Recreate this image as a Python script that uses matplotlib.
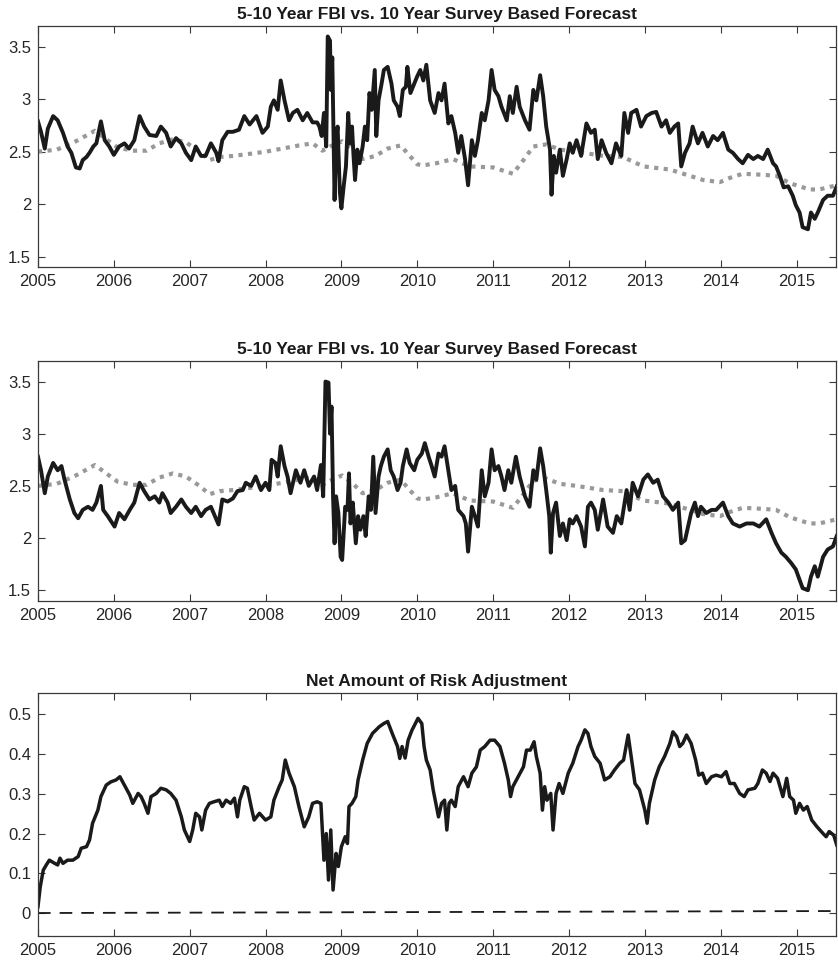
import matplotlib
matplotlib.use("Agg")
import matplotlib.pyplot as plt

# survey based 10 year forecast (same series in panels 1 and 2)
t_survey = [2005.00, 2005.25, 2005.50, 2005.75, 2005.90, 2006.05, 2006.25, 2006.43, 2006.60, 2006.78,
            2006.95, 2007.13, 2007.26, 2007.40, 2007.57, 2007.79, 2008.00, 2008.22, 2008.44, 2008.62,
            2008.75, 2008.88, 2009.01, 2009.14, 2009.28, 2009.45, 2009.61, 2009.78, 2009.89, 2010.00,
            2010.08, 2010.25, 2010.47, 2010.69, 2011.00, 2011.26, 2011.38, 2011.53, 2011.70, 2011.88,
            2012.10, 2012.45, 2012.71, 2012.98, 2013.33, 2013.55, 2013.77, 2013.99, 2014.12, 2014.29,
            2014.56, 2014.73, 2014.91, 2015.17, 2015.30, 2015.53]
survey = [2.50, 2.52, 2.60, 2.70, 2.62, 2.54, 2.51, 2.51, 2.58, 2.62,
          2.59, 2.50, 2.42, 2.45, 2.46, 2.48, 2.50, 2.53, 2.56, 2.58,
          2.51, 2.56, 2.60, 2.53, 2.43, 2.46, 2.53, 2.56, 2.47, 2.38,
          2.37, 2.39, 2.43, 2.36, 2.35, 2.29, 2.40, 2.55, 2.57, 2.52,
          2.50, 2.46, 2.45, 2.36, 2.33, 2.28, 2.23, 2.21, 2.25, 2.29,
          2.28, 2.27, 2.20, 2.14, 2.14, 2.18]

# panel 1: 5-10 year FBI
t_fbi1 = [2005.00, 2005.04, 2005.09, 2005.13, 2005.20, 2005.26, 2005.33, 2005.39, 2005.44, 2005.50,
          2005.55, 2005.59, 2005.64, 2005.68, 2005.73, 2005.77, 2005.83, 2005.88, 2005.94, 2006.00,
          2006.07, 2006.14, 2006.20, 2006.27, 2006.34, 2006.40, 2006.47, 2006.56, 2006.62, 2006.69,
          2006.75, 2006.82, 2006.89, 2006.95, 2007.02, 2007.08, 2007.15, 2007.21, 2007.28, 2007.35,
          2007.38, 2007.43, 2007.50, 2007.57, 2007.65, 2007.72, 2007.79, 2007.88, 2007.96, 2008.03,
          2008.07, 2008.11, 2008.16, 2008.20, 2008.25, 2008.31, 2008.36, 2008.42, 2008.49, 2008.55,
          2008.62, 2008.68, 2008.71, 2008.74, 2008.77, 2008.80, 2008.82, 2008.85, 2008.86, 2008.88,
          2008.90, 2008.91, 2008.93, 2008.95, 2008.98, 2009.00, 2009.03, 2009.06, 2009.09, 2009.11,
          2009.14, 2009.16, 2009.18, 2009.21, 2009.24, 2009.28, 2009.31, 2009.34, 2009.37, 2009.40,
          2009.44, 2009.46, 2009.49, 2009.53, 2009.56, 2009.61, 2009.66, 2009.69, 2009.74, 2009.77,
          2009.81, 2009.85, 2009.87, 2009.91, 2009.96, 2010.00, 2010.04, 2010.08, 2010.12, 2010.17,
          2010.23, 2010.28, 2010.32, 2010.36, 2010.41, 2010.45, 2010.50, 2010.54, 2010.58, 2010.63,
          2010.67, 2010.72, 2010.76, 2010.80, 2010.85, 2010.89, 2010.94, 2010.98, 2011.02, 2011.07,
          2011.11, 2011.18, 2011.22, 2011.26, 2011.31, 2011.35, 2011.42, 2011.48, 2011.53, 2011.57,
          2011.62, 2011.66, 2011.70, 2011.75, 2011.77, 2011.80, 2011.83, 2011.88, 2011.92, 2011.97,
          2012.01, 2012.05, 2012.10, 2012.16, 2012.23, 2012.29, 2012.34, 2012.38, 2012.43, 2012.49,
          2012.56, 2012.62, 2012.69, 2012.73, 2012.78, 2012.82, 2012.89, 2012.95, 2013.02, 2013.09,
          2013.15, 2013.22, 2013.28, 2013.33, 2013.39, 2013.44, 2013.48, 2013.53, 2013.59, 2013.63,
          2013.70, 2013.76, 2013.83, 2013.90, 2013.96, 2014.03, 2014.10, 2014.16, 2014.23, 2014.29,
          2014.36, 2014.43, 2014.49, 2014.56, 2014.62, 2014.69, 2014.73, 2014.78, 2014.83, 2014.89,
          2014.95, 2014.99, 2015.04, 2015.08, 2015.15, 2015.19, 2015.24, 2015.28, 2015.35, 2015.41,
          2015.48, 2015.53]
fbi1 = [2.79, 2.69, 2.53, 2.72, 2.84, 2.80, 2.68, 2.55, 2.49, 2.35,
        2.34, 2.42, 2.45, 2.49, 2.55, 2.58, 2.79, 2.61, 2.55, 2.47,
        2.55, 2.58, 2.53, 2.61, 2.84, 2.74, 2.66, 2.65, 2.74, 2.68,
        2.55, 2.63, 2.58, 2.49, 2.42, 2.55, 2.46, 2.46, 2.58, 2.49,
        2.41, 2.61, 2.69, 2.69, 2.71, 2.84, 2.76, 2.84, 2.68, 2.74,
        2.93, 2.99, 2.90, 3.18, 2.99, 2.80, 2.87, 2.90, 2.80, 2.87,
        2.78, 2.78, 2.74, 2.65, 2.87, 2.55, 3.60, 3.56, 3.09, 3.40,
        2.52, 2.04, 2.61, 2.74, 2.11, 1.96, 2.17, 2.36, 2.87, 2.58,
        2.74, 2.46, 2.23, 2.52, 2.39, 2.55, 2.74, 2.61, 3.06, 2.90,
        3.28, 2.65, 2.99, 3.15, 3.28, 3.31, 3.15, 2.99, 2.93, 2.84,
        3.09, 3.12, 3.31, 3.06, 3.15, 3.22, 3.28, 3.18, 3.33, 2.99,
        2.87, 3.06, 2.99, 3.15, 2.77, 2.84, 2.68, 2.49, 2.65, 2.43,
        2.18, 2.61, 2.46, 2.61, 2.87, 2.80, 2.99, 3.28, 3.09, 3.03,
        2.93, 2.80, 3.03, 2.87, 3.12, 2.93, 2.80, 2.71, 3.09, 2.99,
        3.23, 3.03, 2.74, 2.52, 2.09, 2.46, 2.30, 2.52, 2.27, 2.43,
        2.58, 2.49, 2.61, 2.46, 2.77, 2.68, 2.71, 2.43, 2.61, 2.49,
        2.39, 2.58, 2.46, 2.87, 2.68, 2.87, 2.90, 2.74, 2.84, 2.87,
        2.88, 2.74, 2.80, 2.68, 2.74, 2.77, 2.36, 2.49, 2.58, 2.74,
        2.58, 2.68, 2.55, 2.65, 2.61, 2.68, 2.52, 2.49, 2.43, 2.39,
        2.47, 2.43, 2.46, 2.43, 2.52, 2.39, 2.36, 2.27, 2.16, 2.17,
        2.08, 1.99, 1.92, 1.78, 1.76, 1.92, 1.86, 1.92, 2.04, 2.08,
        2.08, 2.17]

# panel 2: 5-10 year FBI (second version)
t_fbi2 = [2005.00, 2005.04, 2005.09, 2005.13, 2005.20, 2005.26, 2005.31, 2005.35, 2005.42, 2005.48,
          2005.53, 2005.59, 2005.66, 2005.72, 2005.77, 2005.83, 2005.86, 2005.92, 2006.01, 2006.07,
          2006.14, 2006.21, 2006.27, 2006.34, 2006.40, 2006.47, 2006.54, 2006.60, 2006.64, 2006.71,
          2006.75, 2006.82, 2006.89, 2006.95, 2007.02, 2007.08, 2007.15, 2007.21, 2007.28, 2007.35,
          2007.38, 2007.43, 2007.50, 2007.57, 2007.63, 2007.70, 2007.74, 2007.81, 2007.87, 2007.94,
          2008.00, 2008.05, 2008.08, 2008.13, 2008.16, 2008.20, 2008.25, 2008.29, 2008.33, 2008.40,
          2008.46, 2008.51, 2008.57, 2008.64, 2008.68, 2008.73, 2008.76, 2008.79, 2008.83, 2008.85,
          2008.87, 2008.89, 2008.91, 2008.93, 2008.96, 2008.99, 2009.01, 2009.05, 2009.08, 2009.10,
          2009.12, 2009.15, 2009.19, 2009.22, 2009.25, 2009.29, 2009.32, 2009.36, 2009.39, 2009.42,
          2009.45, 2009.49, 2009.52, 2009.56, 2009.61, 2009.65, 2009.69, 2009.74, 2009.78, 2009.81,
          2009.86, 2009.90, 2009.96, 2010.00, 2010.06, 2010.10, 2010.15, 2010.19, 2010.23, 2010.28,
          2010.32, 2010.36, 2010.41, 2010.45, 2010.50, 2010.54, 2010.61, 2010.64, 2010.67, 2010.72,
          2010.76, 2010.80, 2010.85, 2010.89, 2010.94, 2010.98, 2011.02, 2011.07, 2011.11, 2011.15,
          2011.20, 2011.24, 2011.30, 2011.35, 2011.42, 2011.48, 2011.53, 2011.57, 2011.62, 2011.66,
          2011.70, 2011.74, 2011.76, 2011.79, 2011.83, 2011.88, 2011.92, 2011.97, 2012.01, 2012.05,
          2012.10, 2012.16, 2012.21, 2012.25, 2012.29, 2012.34, 2012.38, 2012.45, 2012.51, 2012.58,
          2012.63, 2012.69, 2012.76, 2012.80, 2012.84, 2012.91, 2012.98, 2013.04, 2013.11, 2013.17,
          2013.24, 2013.31, 2013.37, 2013.44, 2013.48, 2013.53, 2013.57, 2013.61, 2013.66, 2013.70,
          2013.74, 2013.81, 2013.88, 2013.94, 2014.03, 2014.10, 2014.16, 2014.25, 2014.34, 2014.43,
          2014.51, 2014.60, 2014.67, 2014.73, 2014.80, 2014.86, 2014.93, 2014.99, 2015.04, 2015.08,
          2015.15, 2015.19, 2015.24, 2015.28, 2015.35, 2015.41, 2015.48, 2015.53]
fbi2 = [2.78, 2.65, 2.43, 2.59, 2.72, 2.65, 2.69, 2.56, 2.37, 2.24,
        2.19, 2.27, 2.30, 2.27, 2.34, 2.50, 2.27, 2.21, 2.11, 2.24,
        2.18, 2.27, 2.34, 2.53, 2.45, 2.37, 2.40, 2.34, 2.43, 2.34,
        2.24, 2.30, 2.37, 2.30, 2.24, 2.30, 2.21, 2.27, 2.30, 2.18,
        2.13, 2.37, 2.35, 2.38, 2.45, 2.46, 2.53, 2.50, 2.59, 2.46,
        2.53, 2.46, 2.75, 2.72, 2.59, 2.88, 2.69, 2.59, 2.43, 2.65,
        2.53, 2.65, 2.50, 2.59, 2.46, 2.70, 2.40, 3.50, 3.49, 3.00,
        3.26, 2.40, 1.95, 2.40, 2.24, 1.82, 1.79, 2.30, 2.27, 2.62,
        2.14, 2.34, 1.95, 2.21, 2.08, 2.21, 2.02, 2.40, 2.27, 2.78,
        2.24, 2.59, 2.69, 2.78, 2.85, 2.65, 2.59, 2.46, 2.53, 2.69,
        2.85, 2.72, 2.65, 2.75, 2.81, 2.91, 2.78, 2.69, 2.59, 2.81,
        2.78, 2.88, 2.65, 2.46, 2.50, 2.27, 2.21, 2.14, 1.87, 2.30,
        2.21, 2.11, 2.65, 2.40, 2.53, 2.85, 2.65, 2.69, 2.59, 2.46,
        2.65, 2.53, 2.78, 2.59, 2.40, 2.30, 2.65, 2.56, 2.86, 2.69,
        2.46, 2.21, 1.86, 2.24, 2.34, 2.02, 2.14, 1.98, 2.18, 2.14,
        2.21, 2.11, 1.92, 2.30, 2.34, 2.27, 2.08, 2.37, 2.11, 2.05,
        2.21, 2.14, 2.46, 2.27, 2.53, 2.40, 2.56, 2.61, 2.53, 2.56,
        2.40, 2.34, 2.27, 2.34, 1.95, 1.98, 2.11, 2.24, 2.34, 2.21,
        2.30, 2.24, 2.27, 2.27, 2.34, 2.21, 2.14, 2.11, 2.14, 2.14,
        2.11, 2.18, 2.05, 1.95, 1.86, 1.82, 1.76, 1.70, 1.60, 1.52,
        1.50, 1.63, 1.73, 1.63, 1.82, 1.89, 1.92, 2.02]

# panel 3: net amount of risk adjustment
t_risk = [2005.00, 2005.03, 2005.07, 2005.11, 2005.15, 2005.22, 2005.26, 2005.29, 2005.33, 2005.39,
          2005.46, 2005.53, 2005.57, 2005.64, 2005.68, 2005.72, 2005.79, 2005.83, 2005.90, 2005.96,
          2006.03, 2006.08, 2006.14, 2006.21, 2006.25, 2006.32, 2006.36, 2006.40, 2006.45, 2006.49,
          2006.56, 2006.62, 2006.69, 2006.75, 2006.82, 2006.89, 2006.93, 2007.00, 2007.04, 2007.08,
          2007.13, 2007.16, 2007.21, 2007.26, 2007.32, 2007.39, 2007.43, 2007.48, 2007.54, 2007.59,
          2007.63, 2007.66, 2007.72, 2007.76, 2007.81, 2007.85, 2007.92, 2008.00, 2008.07, 2008.11,
          2008.18, 2008.22, 2008.26, 2008.31, 2008.38, 2008.44, 2008.51, 2008.57, 2008.62, 2008.68,
          2008.73, 2008.77, 2008.80, 2008.83, 2008.86, 2008.89, 2008.93, 2008.96, 2009.00, 2009.05,
          2009.08, 2009.10, 2009.14, 2009.19, 2009.22, 2009.28, 2009.34, 2009.41, 2009.50, 2009.56,
          2009.61, 2009.67, 2009.74, 2009.77, 2009.80, 2009.84, 2009.88, 2009.93, 2010.01, 2010.06,
          2010.09, 2010.12, 2010.17, 2010.21, 2010.28, 2010.32, 2010.36, 2010.39, 2010.42, 2010.45,
          2010.50, 2010.54, 2010.61, 2010.67, 2010.72, 2010.78, 2010.83, 2010.89, 2010.96, 2011.02,
          2011.09, 2011.15, 2011.20, 2011.23, 2011.26, 2011.33, 2011.40, 2011.44, 2011.49, 2011.54,
          2011.57, 2011.62, 2011.65, 2011.68, 2011.71, 2011.76, 2011.79, 2011.83, 2011.87, 2011.92,
          2011.99, 2012.05, 2012.12, 2012.16, 2012.21, 2012.25, 2012.29, 2012.34, 2012.41, 2012.47,
          2012.54, 2012.60, 2012.67, 2012.72, 2012.78, 2012.82, 2012.87, 2012.93, 2013.00, 2013.03,
          2013.06, 2013.13, 2013.19, 2013.26, 2013.33, 2013.37, 2013.42, 2013.46, 2013.50, 2013.55,
          2013.61, 2013.67, 2013.71, 2013.76, 2013.81, 2013.88, 2013.94, 2014.01, 2014.07, 2014.12,
          2014.18, 2014.25, 2014.31, 2014.36, 2014.45, 2014.49, 2014.55, 2014.60, 2014.65, 2014.69,
          2014.75, 2014.82, 2014.87, 2014.91, 2014.96, 2014.99, 2015.04, 2015.09, 2015.14, 2015.20,
          2015.27, 2015.35, 2015.39, 2015.43, 2015.49, 2015.53]
risk = [0.016, 0.066, 0.108, 0.121, 0.133, 0.125, 0.121, 0.138, 0.125, 0.133,
        0.133, 0.142, 0.163, 0.167, 0.184, 0.226, 0.259, 0.293, 0.322, 0.330,
        0.335, 0.343, 0.322, 0.297, 0.276, 0.301, 0.293, 0.276, 0.251, 0.293,
        0.301, 0.314, 0.310, 0.301, 0.284, 0.242, 0.209, 0.180, 0.209, 0.251,
        0.242, 0.209, 0.259, 0.276, 0.280, 0.284, 0.268, 0.284, 0.276, 0.289,
        0.242, 0.284, 0.318, 0.314, 0.268, 0.234, 0.251, 0.234, 0.242, 0.284,
        0.318, 0.335, 0.385, 0.352, 0.318, 0.268, 0.217, 0.242, 0.276, 0.280,
        0.276, 0.133, 0.200, 0.083, 0.209, 0.058, 0.150, 0.117, 0.167, 0.192,
        0.175, 0.268, 0.276, 0.293, 0.335, 0.385, 0.427, 0.452, 0.469, 0.477,
        0.482, 0.452, 0.419, 0.389, 0.419, 0.390, 0.435, 0.460, 0.490, 0.477,
        0.419, 0.385, 0.360, 0.310, 0.242, 0.276, 0.284, 0.209, 0.276, 0.284,
        0.268, 0.318, 0.343, 0.318, 0.352, 0.368, 0.410, 0.419, 0.435, 0.435,
        0.419, 0.377, 0.335, 0.293, 0.318, 0.343, 0.368, 0.410, 0.410, 0.431,
        0.394, 0.352, 0.259, 0.318, 0.284, 0.301, 0.209, 0.301, 0.326, 0.301,
        0.352, 0.377, 0.419, 0.435, 0.461, 0.452, 0.419, 0.394, 0.377, 0.335,
        0.343, 0.360, 0.377, 0.385, 0.448, 0.394, 0.326, 0.310, 0.259, 0.226,
        0.276, 0.335, 0.368, 0.394, 0.427, 0.456, 0.444, 0.419, 0.427, 0.448,
        0.427, 0.385, 0.347, 0.352, 0.326, 0.343, 0.347, 0.343, 0.356, 0.326,
        0.326, 0.301, 0.293, 0.310, 0.314, 0.326, 0.360, 0.352, 0.331, 0.352,
        0.339, 0.293, 0.339, 0.293, 0.284, 0.251, 0.276, 0.259, 0.268, 0.234,
        0.217, 0.200, 0.192, 0.205, 0.196, 0.171]

# zero reference (dashed)
t_zero = [2005.0, 2015.53]
zero = [0.0, 0.005]

years = list(range(2005, 2016))
title_fbi = "5-10 Year FBI vs. 10 Year Survey Based Forecast"
title_risk = "Net Amount of Risk Adjustment"

plt.rcParams['font.family'] = ['Liberation Sans', 'DejaVu Sans']
axcol = '#3a3a3a'

fig = plt.figure(figsize=(8.38, 9.66), dpi=100)
ax1 = fig.add_axes([0.0453, 0.7236, 0.9523, 0.2495])
ax2 = fig.add_axes([0.0453, 0.3782, 0.9523, 0.2484])
ax3 = fig.add_axes([0.0453, 0.0314, 0.9523, 0.2509])


def style(ax, yticks, ylim, title):
    ax.set_xlim(2005, 2015.52)
    ax.set_ylim(*ylim)
    ax.set_xticks(years)
    ax.set_xticklabels([str(y) for y in years])
    ax.set_yticks(yticks)
    ax.tick_params(direction='in', top=True, right=True, length=5, width=0.8,
                   color=axcol, labelcolor='#262626', labelsize=12, pad=5)
    for s in ax.spines.values():
        s.set_color(axcol)
        s.set_linewidth(0.9)
    ax.set_title(title, fontsize=12.5, fontweight='bold', color='#1a1a1a', pad=5)


for ax, t, v in [(ax1, t_fbi1, fbi1), (ax2, t_fbi2, fbi2)]:
    ax.plot(t_survey, survey, color='#999999', lw=3.0, linestyle=(0, (1, 1.3)),
            dash_capstyle='butt')
    ax.plot(t, v, color='#1a1a1a', lw=2.8, solid_joinstyle='round')
    style(ax, [1.5, 2, 2.5, 3, 3.5], (1.4, 3.7), title_fbi)
    ax.set_yticklabels(['1.5', '2', '2.5', '3', '3.5'])

ax3.plot(t_zero, zero, color='#1a1a1a', lw=1.3, linestyle=(0, (7, 5)))
ax3.plot(t_risk, risk, color='#1a1a1a', lw=2.5, solid_joinstyle='round')
style(ax3, [0, 0.1, 0.2, 0.3, 0.4, 0.5], (-0.057, 0.553), title_risk)
ax3.set_yticklabels(['0', '0.1', '0.2', '0.3', '0.4', '0.5'])

fig.savefig('out.png', dpi=100)
